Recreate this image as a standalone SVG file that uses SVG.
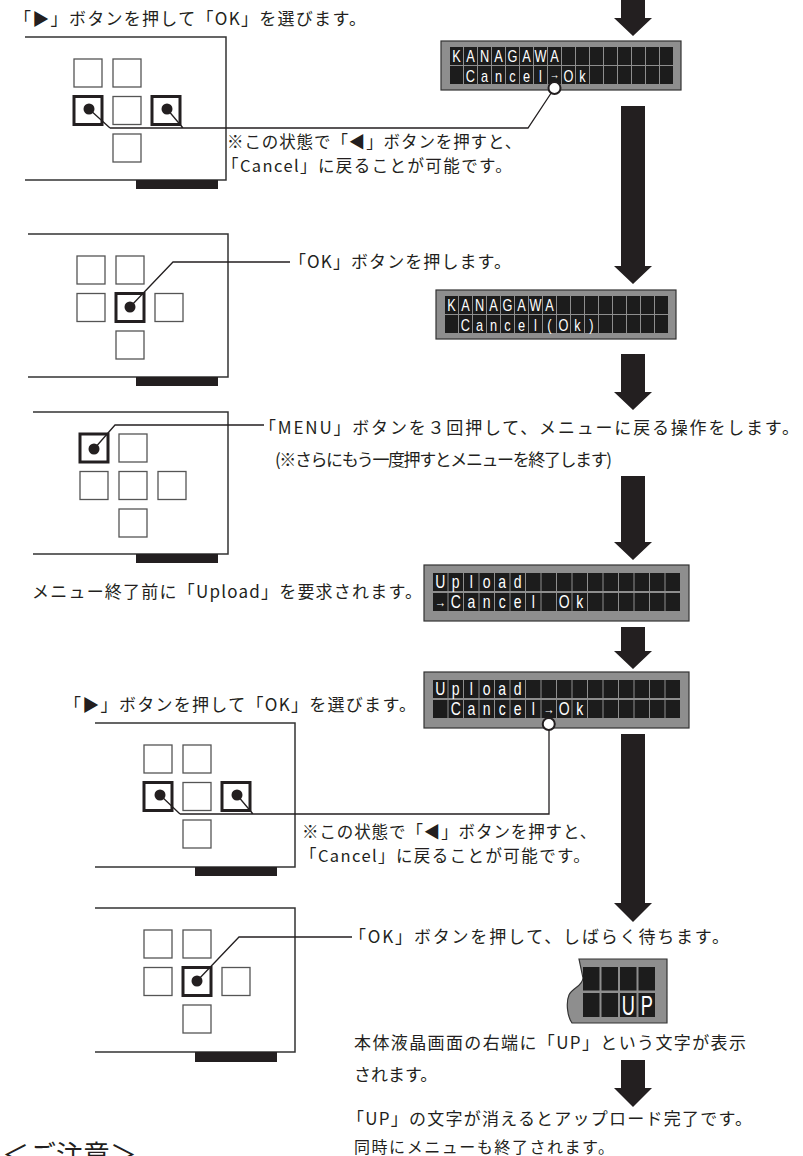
<svg xmlns="http://www.w3.org/2000/svg" xmlns:xlink="http://www.w3.org/1999/xlink" width="803" height="1156" viewBox="0 0 803 1156">
<style>
.t{font-family:"Noto Sans CJK JP","Noto Sans CJK SC",sans-serif;font-size:17px;fill:#231f20}
.t2{font-size:16.5px}
.lcdt{font-family:"Liberation Sans",Arial,sans-serif;font-size:17px;fill:#fff}
.lcdb{font-size:17.5px}
.sm{font-size:16px}
.btn{fill:#fff;stroke:#555;stroke-width:1.3}
.btnb{fill:#fff;stroke:#231f20;stroke-width:3}
.frame{fill:none;stroke:#333;stroke-width:1.5}
.bar{fill:#231f20}
.ld{fill:none;stroke:#231f20;stroke-width:1.3}
.arrow{fill:#231f20}
.cell{fill:#1c1c1c}
.lcdbg{fill:#8e8e8e;stroke:#333;stroke-width:1.2}
.dot{fill:#231f20}
.ring{fill:#fff;stroke:#231f20;stroke-width:2}
</style>
<defs>
<g id="lcdS">
<rect class="lcdbg" x="0" y="0" width="240" height="49"/>
<g class="cell">
<rect x="9" y="6" width="13" height="18"/><rect x="23" y="6" width="13" height="18"/><rect x="37" y="6" width="13" height="18"/><rect x="51" y="6" width="13" height="18"/><rect x="65" y="6" width="13" height="18"/><rect x="79" y="6" width="13" height="18"/><rect x="93" y="6" width="13" height="18"/><rect x="107" y="6" width="13" height="18"/><rect x="121" y="6" width="13" height="18"/><rect x="135" y="6" width="13" height="18"/><rect x="149" y="6" width="13" height="18"/><rect x="163" y="6" width="13" height="18"/><rect x="177" y="6" width="13" height="18"/><rect x="191" y="6" width="13" height="18"/><rect x="205" y="6" width="13" height="18"/><rect x="219" y="6" width="13" height="18"/>
<rect x="9" y="25" width="13" height="18"/><rect x="23" y="25" width="13" height="18"/><rect x="37" y="25" width="13" height="18"/><rect x="51" y="25" width="13" height="18"/><rect x="65" y="25" width="13" height="18"/><rect x="79" y="25" width="13" height="18"/><rect x="93" y="25" width="13" height="18"/><rect x="107" y="25" width="13" height="18"/><rect x="121" y="25" width="13" height="18"/><rect x="135" y="25" width="13" height="18"/><rect x="149" y="25" width="13" height="18"/><rect x="163" y="25" width="13" height="18"/><rect x="177" y="25" width="13" height="18"/><rect x="191" y="25" width="13" height="18"/><rect x="205" y="25" width="13" height="18"/><rect x="219" y="25" width="13" height="18"/>
</g>
</g>
<g id="lcdB">
<rect class="lcdbg" x="0" y="0" width="265" height="56"/>
<g class="cell">
<rect x="9" y="8" width="14.5" height="18"/><rect x="24.5" y="8" width="14.5" height="18"/><rect x="40" y="8" width="14.5" height="18"/><rect x="55.5" y="8" width="14.5" height="18"/><rect x="71" y="8" width="14.5" height="18"/><rect x="86.5" y="8" width="14.5" height="18"/><rect x="102" y="8" width="14.5" height="18"/><rect x="117.5" y="8" width="14.5" height="18"/><rect x="133" y="8" width="14.5" height="18"/><rect x="148.5" y="8" width="14.5" height="18"/><rect x="164" y="8" width="14.5" height="18"/><rect x="179.5" y="8" width="14.5" height="18"/><rect x="195" y="8" width="14.5" height="18"/><rect x="210.5" y="8" width="14.5" height="18"/><rect x="226" y="8" width="14.5" height="18"/><rect x="241.5" y="8" width="14.5" height="18"/>
<rect x="9" y="28" width="14.5" height="18"/><rect x="24.5" y="28" width="14.5" height="18"/><rect x="40" y="28" width="14.5" height="18"/><rect x="55.5" y="28" width="14.5" height="18"/><rect x="71" y="28" width="14.5" height="18"/><rect x="86.5" y="28" width="14.5" height="18"/><rect x="102" y="28" width="14.5" height="18"/><rect x="117.5" y="28" width="14.5" height="18"/><rect x="133" y="28" width="14.5" height="18"/><rect x="148.5" y="28" width="14.5" height="18"/><rect x="164" y="28" width="14.5" height="18"/><rect x="179.5" y="28" width="14.5" height="18"/><rect x="195" y="28" width="14.5" height="18"/><rect x="210.5" y="28" width="14.5" height="18"/><rect x="226" y="28" width="14.5" height="18"/><rect x="241.5" y="28" width="14.5" height="18"/>
</g>
</g>
</defs>
<rect width="803" height="1156" fill="#fff"/>

<g id="arrows">
<path class="arrow" d="M621,0 H645 V18 H652 L633,36 L614,18 H621 Z"/>
<path class="arrow" d="M621,106 H645 V266 H652 L633,284 L614,266 H621 Z"/>
<path class="arrow" d="M621,354 H645 V392 H652 L633,410 L614,392 H621 Z"/>
<path class="arrow" d="M621,476 H645 V542 H652 L633,560 L614,542 H621 Z"/>
<path class="arrow" d="M621,627 H645 V651 H652 L633,669 L614,651 H621 Z"/>
<path class="arrow" d="M621,734 H645 V903 H652 L633,922 L614,903 H621 Z"/>
<path class="arrow" d="M621,1060 H645 V1088 H652 L633,1107 L614,1088 H621 Z"/>
</g>

<g id="panel1">
<path class="frame" d="M25,37 H226 V180 H25"/>
<rect class="bar" x="136" y="180" width="82" height="9"/>
<rect class="btn" x="74" y="59" width="28" height="28"/>
<rect class="btn" x="113" y="59" width="28" height="28"/>
<rect class="btnb" x="74" y="96.5" width="28" height="28"/>
<rect class="btn" x="113" y="96.5" width="28" height="28"/>
<rect class="btnb" x="152" y="96.5" width="28" height="28"/>
<rect class="btn" x="113" y="134" width="28" height="28"/>
<circle class="dot" cx="89" cy="109" r="5.5"/>
<circle class="dot" cx="167" cy="109" r="5.5"/>
</g>

<g id="panel2">
<path class="frame" d="M28,234 H228 V377 H28"/>
<rect class="bar" x="136" y="377" width="82" height="9"/>
<rect class="btn" x="77" y="256" width="28" height="28"/>
<rect class="btn" x="116" y="256" width="28" height="28"/>
<rect class="btn" x="77" y="293.5" width="28" height="28"/>
<rect class="btnb" x="116" y="293.5" width="28" height="28"/>
<rect class="btn" x="155" y="293.5" width="28" height="28"/>
<rect class="btn" x="116" y="331" width="28" height="28"/>
<circle class="dot" cx="130" cy="307" r="5.5"/>
</g>

<g id="panel3">
<path class="frame" d="M33,412 H228 V554 H33"/>
<rect class="bar" x="136" y="554" width="82" height="9"/>
<rect class="btnb" x="80" y="434" width="28" height="28"/>
<rect class="btn" x="119" y="434" width="28" height="28"/>
<rect class="btn" x="80" y="471.5" width="28" height="28"/>
<rect class="btn" x="119" y="471.5" width="28" height="28"/>
<rect class="btn" x="158" y="471.5" width="28" height="28"/>
<rect class="btn" x="119" y="509" width="28" height="28"/>
<circle class="dot" cx="94" cy="449" r="5.5"/>
</g>

<g id="panel5">
<path class="frame" d="M95,723 H295 V867 H95"/>
<rect class="bar" x="195" y="867" width="82" height="9"/>
<rect class="btn" x="144" y="745" width="28" height="28"/>
<rect class="btn" x="183" y="745" width="28" height="28"/>
<rect class="btnb" x="144" y="782.5" width="28" height="28"/>
<rect class="btn" x="183" y="782.5" width="28" height="28"/>
<rect class="btnb" x="222" y="782.5" width="28" height="28"/>
<rect class="btn" x="183" y="820" width="28" height="28"/>
<circle class="dot" cx="160" cy="795" r="5.5"/>
<circle class="dot" cx="237" cy="795" r="5.5"/>
</g>

<g id="panel6">
<path class="frame" d="M95,908 H295 V1052 H95"/>
<rect class="bar" x="195" y="1052" width="82" height="10"/>
<rect class="btn" x="144" y="930" width="28" height="28"/>
<rect class="btn" x="183" y="930" width="28" height="28"/>
<rect class="btn" x="144" y="967.5" width="28" height="28"/>
<rect class="btnb" x="183" y="967.5" width="28" height="28"/>
<rect class="btn" x="222" y="967.5" width="28" height="28"/>
<rect class="btn" x="183" y="1005" width="28" height="28"/>
<circle class="dot" cx="197" cy="981" r="5.5"/>
</g>

<g id="lcd1" transform="translate(441,41)">
<use xlink:href="#lcdS"/>
<text class="lcdt" transform="scale(0.75,1)" text-anchor="middle"><tspan x="20.7 39.3 58 76.7 95.3 114 132.7 151.3" y="21.5">KANAGAWA</tspan><tspan x="39.3 58 76.7 95.3 114 132.7" y="40.6">Cancel</tspan><tspan x="151.3" y="38" style="font-size:13px">→</tspan><tspan x="170 188.7" y="40.6">Ok</tspan></text>
</g>

<g id="lcd2" transform="translate(436,290)">
<use xlink:href="#lcdS"/>
<text class="lcdt" transform="scale(0.75,1)" text-anchor="middle"><tspan x="20.7 39.3 58 76.7 95.3 114 132.7 151.3" y="21.5">KANAGAWA</tspan><tspan x="39.3 58 76.7 95.3 114 132.7 151.3 170 188.7 207.3" y="40.6">Cancel(Ok)</tspan></text>
</g>

<g id="lcd3" transform="translate(424,565)">
<use xlink:href="#lcdB"/>
<text class="lcdt lcdb" transform="scale(0.8,1)" text-anchor="middle"><tspan x="20.3 39.7 59.1 78.4 97.8 117.2" y="23.5">Upload</tspan><tspan x="20.3" y="42" style="font-size:14px">→</tspan><tspan x="39.7 59.1 78.4 97.8 117.2 136.6" y="43.5">Cancel</tspan><tspan x="175.3 194.7" y="43.5">Ok</tspan></text>
</g>

<g id="lcd4" transform="translate(424,672)">
<use xlink:href="#lcdB"/>
<text class="lcdt lcdb" transform="scale(0.8,1)" text-anchor="middle"><tspan x="20.3 39.7 59.1 78.4 97.8 117.2" y="23.5">Upload</tspan><tspan x="39.7 59.1 78.4 97.8 117.2 136.6" y="43.5">Cancel</tspan><tspan x="155.9" y="42" style="font-size:14px">→</tspan><tspan x="175.3 194.7" y="43.5">Ok</tspan></text>
</g>

<g id="lcd-up">
<path class="lcdbg" d="M579,959 H667 V1023 H572 C567,1016 566,1002 569,995 C572,988 583,986 583,978 L579,959 Z"/>
<g class="cell">
<rect x="583" y="967" width="16.5" height="23.5"/><rect x="601.5" y="967" width="16.5" height="23.5"/><rect x="620" y="967" width="16.5" height="23.5"/><rect x="638.5" y="967" width="16.5" height="23.5"/>
<rect x="583" y="993" width="16.5" height="24"/><rect x="601.5" y="993" width="16.5" height="24"/><rect x="620" y="993" width="16.5" height="24"/><rect x="638.5" y="993" width="16.5" height="24"/>
</g>
<text class="lcdt" style="font-size:28px" transform="translate(0,1015) scale(0.65,1)" x="966.5 995" text-anchor="middle">UP</text>
</g>

<g id="connectors">
<path class="ld" d="M89,109 L110,128 M167,109 L183,128 M110,128 H528 L554.5,88"/>
<circle class="ring" cx="554.5" cy="88" r="6"/>
<path class="ld" d="M130,307 L173,262 H290"/>
<path class="ld" d="M94,449 L115,425 H264"/>
<path class="ld" d="M160,795 L180,814 M237,795 L253,814 M180,814 H549 V724"/>
<circle class="ring" cx="548.75" cy="724" r="6"/>
<path class="ld" d="M197,981 L239,937 H352"/>
</g>

<g id="texts">
<text class="t" x="14" y="25" textLength="352" lengthAdjust="spacing">「▶」ボタンを押して「OK」を選びます。</text>
<text class="t t2"><tspan x="227" y="148" letter-spacing="0.9">※この状態で「◀」ボタンを押すと、</tspan><tspan x="222" y="172" letter-spacing="1.4">「Cancel」に戻ることが可能です。</tspan></text>
<text class="t" x="289" y="268" textLength="222" lengthAdjust="spacing">「OK」ボタンを押します。</text>
<text class="t" x="259" y="434" textLength="540" lengthAdjust="spacing">「MENU」ボタンを３回押して、メニューに戻る操作をします。</text>
<text class="t" x="275" y="466" textLength="337" lengthAdjust="spacing">(※さらにもう一度押すとメニューを終了します)</text>
<text class="t" x="32" y="598" textLength="390" lengthAdjust="spacing">メニュー終了前に「Upload」を要求されます。</text>
<text class="t" x="64" y="711" textLength="352" lengthAdjust="spacing">「▶」ボタンを押して「OK」を選びます。</text>
<text class="t t2"><tspan x="302" y="838" letter-spacing="0.9">※この状態で「◀」ボタンを押すと、</tspan><tspan x="300" y="862" letter-spacing="1.4">「Cancel」に戻ることが可能です。</tspan></text>
<text class="t" x="349" y="943" textLength="380" lengthAdjust="spacing">「OK」ボタンを押して、しばらく待ちます。</text>
<text class="t" x="354" y="1049" textLength="392" lengthAdjust="spacing">本体液晶画面の右端に「UP」という文字が表示</text>
<text class="t" x="354" y="1081">されます。</text>
<text class="t" x="347" y="1125" textLength="405" lengthAdjust="spacing">「UP」の文字が消えるとアップロード完了です。</text>
<text class="t sm" x="354" y="1153" textLength="260" lengthAdjust="spacing">同時にメニューも終了されます。</text>
<text class="t" x="2" y="1165" style="font-size:27px">＜ご注意＞</text>
</g>
</svg>
